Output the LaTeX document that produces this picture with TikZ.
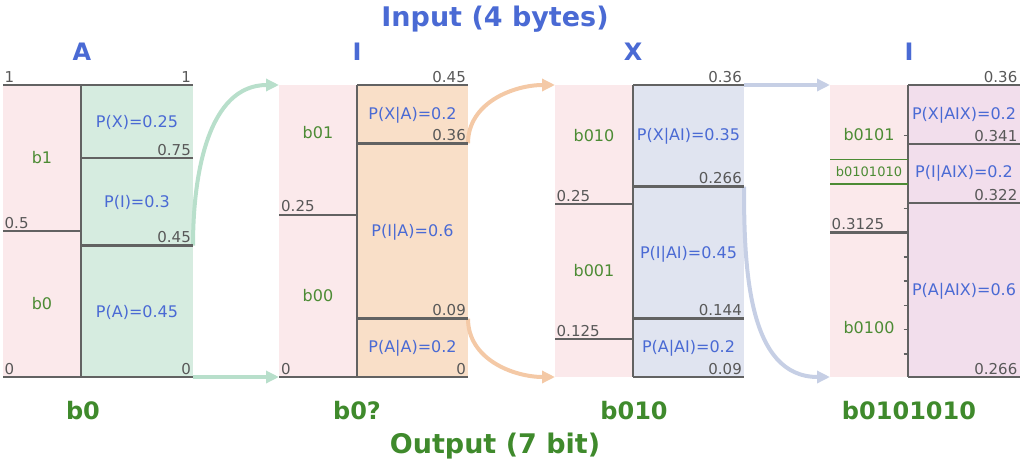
\documentclass[tikz,border=0pt]{standalone}
\usepackage{fontspec}
\setmainfont{DejaVu Sans}
\usepackage{tikz}
\usetikzlibrary{positioning,arrows.meta}

\definecolor{pinkbg}{HTML}{FBE9EB}
\definecolor{greenbg}{HTML}{D6ECE0}
\definecolor{orangebg}{HTML}{F9DFC8}
\definecolor{bluebg}{HTML}{E0E4F0}
\definecolor{violetbg}{HTML}{F2DEEC}
\definecolor{linegray}{HTML}{626262}
\definecolor{numgray}{HTML}{585858}
\definecolor{txtblue}{HTML}{4A6AD4}
\definecolor{txtgreen}{HTML}{4C8B34}
\definecolor{headgreen}{HTML}{3F8A2C}
\definecolor{arrgreen}{HTML}{B8DFCB}
\definecolor{arrorange}{HTML}{F4C9A6}
\definecolor{arrblue}{HTML}{C6CFE5}

\tikzset{
	num/.style={text=numgray, font=\fontsize{15}{17}\selectfont, inner sep=0pt},
	prob/.style={text=txtblue, font=\fontsize{16}{18}\selectfont, inner sep=0pt},
	bits/.style={text=txtgreen, font=\fontsize{16}{18}\selectfont, inner sep=0pt},
	head/.style={font=\bfseries\fontsize{24}{28}\selectfont, inner sep=0pt, anchor=base},
	title/.style={font=\bfseries\fontsize{27}{32}\selectfont, inner sep=0pt, anchor=base},
	cutline/.style={draw=linegray, line width=2.6pt},
	flow/.style={line width=4pt, -{Triangle[length=13pt,width=12pt]}},
}

\newcommand{\band}[3]{
	\path [fill=#1] (#2,85) rectangle (#3,377);
}
\newcommand{\cut}[4][]{
	\path [cutline,#1] (#2,#4) -- (#3,#4);
}
\newcommand{\lval}[4]{
	\node [num, anchor=base west] (#1) at (#2,#3) {#4};
}
\newcommand{\rval}[4]{
	\node [num, anchor=base east] (#1) at (#2,#3) {#4};
}
\newcommand{\flowto}[3][]{
	\path [flow, #1] (#2) -- (#3);
}

\begin{document}
\begin{tikzpicture}[x=1pt,y=-1pt]
		\useasboundingbox (0,0) rectangle (1024,463);
		\band{pinkbg}{3}{81}
		\band{greenbg}{81}{193}
		\band{pinkbg}{279}{357}
		\band{orangebg}{357}{468}
		\band{pinkbg}{555}{633}
		\band{bluebg}{633}{744}
		\band{pinkbg}{830}{908}
		\band{violetbg}{908}{1020}

		\coordinate (a45) at (193,245.6);
		\coordinate (a0) at (193,377);
		\coordinate (i45) at (279,85);
		\coordinate (i0) at (279,377);
		\coordinate (i36) at (468,143.4);
		\coordinate (i09) at (468,318.6);
		\coordinate (x36) at (555,85);
		\coordinate (x09) at (555,377);
		\coordinate (x36r) at (744,85);
		\coordinate (x266) at (744,186.7);
		\coordinate (l36) at (830,85);
		\coordinate (l266) at (830,377);

		\path [flow, draw=arrgreen] (a45) .. controls +(0,-71) and +(-71,0) .. (i45);
		\flowto[draw=arrgreen]{a0}{i0}
		\path [flow, draw=arrorange] (i36) .. controls +(0,-41) and +(-41,0) .. (x36);
		\path [flow, draw=arrorange] (i09) .. controls +(0,41) and +(-41,0) .. (x09);
		\flowto[draw=arrblue]{x36r}{l36}
		\path [flow, draw=arrblue] (x266) .. controls +(0,82) and +(-82,0) .. (l266);

		% A
		\cut{3}{193}{85}
		\cut{3}{193}{377}
		\path [cutline] (81,85) -- (81,377);
		\cut{3}{81}{231}
		\cut{81}{193}{158}
		\cut{81}{193}{245.6}
		% I
		\cut{357}{468}{85}
		\cut{279}{468}{377}
		\path [cutline] (357,85) -- (357,377);
		\cut{279}{357}{214.8}
		\cut{357}{468}{143.4}
		\cut{357}{468}{318.6}
		% X
		\cut{633}{744}{85}
		\cut{633}{744}{377}
		\path [cutline] (633,85) -- (633,377);
		\cut{555}{633}{204}
		\cut{555}{633}{339}
		\cut{633}{744}{186.7}
		\cut{633}{744}{318.6}
		% I
		\cut{908}{1020}{85}
		\cut{908}{1020}{377}
		\path [cutline] (908,85) -- (908,377);
		\cut{830}{908}{232.5}
		\cut{908}{1020}{144}
		\cut{908}{1020}{203}
		\cut[draw=txtgreen, line width=1.5pt]{830}{908}{159.7}
		\cut[draw=txtgreen, line width=1.5pt]{830}{908}{184}
		\foreach \y in {135.7,208.3,256.8,281.1,305.3,329.6,353.9}
			\path [draw=linegray, line width=1.5pt] (903.5,\y) -- (908,\y);

		\lval{la1}{4.5}{82}{1}
		\lval{la5}{4.5}{228}{0.5}
		\lval{la0}{4.5}{374}{0}
		\rval{ra1}{191}{82}{1}
		\rval{ra75}{191}{155}{0.75}
		\rval{ra45}{191}{242.6}{0.45}
		\rval{ra0}{191}{374}{0}
		\lval{li25}{281}{211.8}{0.25}
		\lval{li0}{281}{374}{0}
		\rval{ri45}{466}{82}{0.45}
		\rval{ri36}{466}{140.4}{0.36}
		\rval{ri09}{466}{315.6}{0.09}
		\rval{ri0}{466}{374}{0}
		\lval{lx25}{556.5}{201}{0.25}
		\lval{lx125}{556.5}{336}{0.125}
		\rval{rx36}{742}{82}{0.36}
		\rval{rx266}{742}{183.7}{0.266}
		\rval{rx144}{742}{315.6}{0.144}
		\rval{rx09}{742}{374}{0.09}
		\lval{ll3125}{831.5}{229.5}{0.3125}
		\rval{rl36}{1017.5}{82}{0.36}
		\rval{rl341}{1017.5}{141}{0.341}
		\rval{rl322}{1017.5}{200}{0.322}
		\rval{rl266}{1017.5}{374}{0.266}

		\node [prob] (pa1) at (137,122) {P(X)=0.25};
		\node [prob] (pa2) at (137,202.7) {P(I)=0.3};
		\node [prob] (pa3) at (137,312) {P(A)=0.45};
		\node [prob] (pi1) at (412.5,115) {P(X|A)=0.2};
		\node [prob] (pi2) at (412.5,232) {P(I|A)=0.6};
		\node [prob] (pi3) at (412.5,348) {P(A|A)=0.2};
		\node [prob] (px1) at (688.5,136.7) {P(X|AI)=0.35};
		\node [prob] (px2) at (688.5,254) {P(I|AI)=0.45};
		\node [prob] (px3) at (688.5,348) {P(A|AI)=0.2};
		\node [prob] (pl1) at (964,115) {P(X|AIX)=0.2};
		\node [prob] (pl2) at (964,173) {P(I|AIX)=0.2};
		\node [prob] (pl3) at (964,291) {P(A|AIX)=0.6};

		\node [bits] (ba1) at (42,158) {b1};
		\node [bits] (ba0) at (42,304) {b0};
		\node [bits] (bi01) at (318,133) {b01};
		\node [bits] (bi00) at (318,296) {b00};
		\node [bits] (bx010) at (594,136) {b010};
		\node [bits] (bx001) at (594,271) {b001};
		\node [bits] (bl0101) at (869,135) {b0101};
		\node [bits, font=\fontsize{13}{15}\selectfont] (bl7) at (869,172) {b0101010};
		\node [bits] (bl0100) at (869,328) {b0100};

		\node [title, text=txtblue] (input) at (495,27) {Input (4 bytes)};
		\node [head, text=txtblue] (hA) at (82,60) {A};
		\node [head, text=txtblue] (hI) at (357,60) {I};
		\node [head, text=txtblue] (hX) at (633,60) {X};
		\node [head, text=txtblue] (hI2) at (909,60) {I};
		\node [head, text=headgreen] (oA) at (83,419) {b0};
		\node [head, text=headgreen] (oI) at (357,419) {b0?};
		\node [head, text=headgreen] (oX) at (634,419) {b010};
		\node [head, text=headgreen] (oI2) at (909,419) {b0101010};
		\node [title, text=headgreen] (output) at (495,453) {Output (7 bit)};
\end{tikzpicture}
\end{document}
